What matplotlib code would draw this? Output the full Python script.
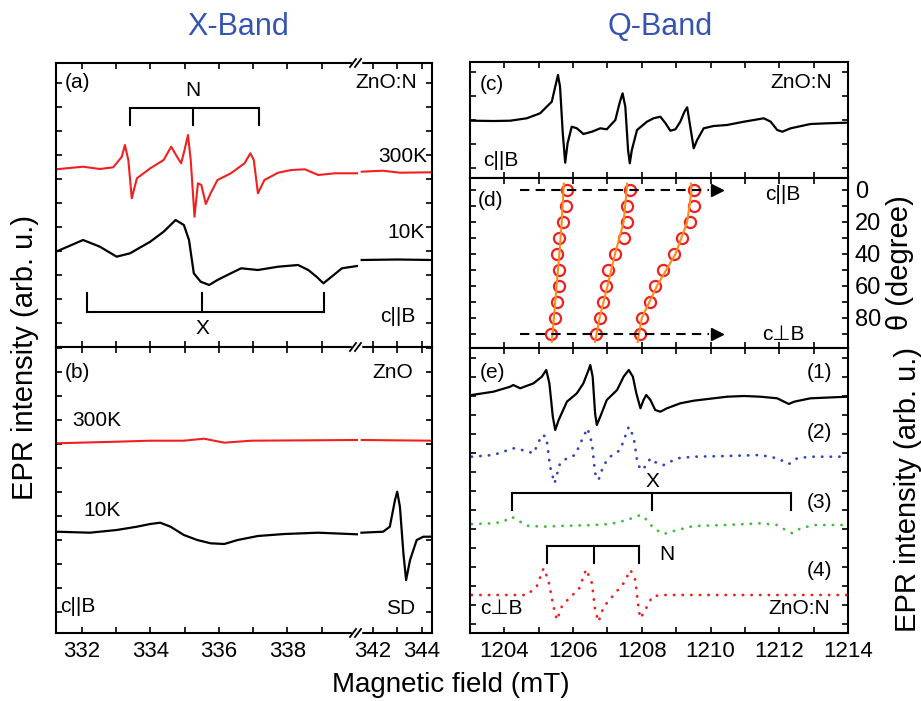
import matplotlib.pyplot as plt
from matplotlib.lines import Line2D
import numpy as np

plt.rcParams['font.family'] = ['Liberation Sans', 'DejaVu Sans']

# ---- X-band, (a) ZnO:N ----
a300_B = [331.25, 332.04, 332.53, 332.92, 333.17, 333.26, 333.36, 333.46, 333.61, 334.0,
          334.39, 334.61, 334.78, 334.9, 335.0, 335.1, 335.18, 335.29, 335.39, 335.49,
          335.62, 335.76, 335.96, 336.35, 336.75, 336.92, 337.02, 337.14, 337.33, 337.73,
          338.12, 338.51, 338.9, 339.39, 340.03]
a300_I = [177.7, 180.3, 178, 179.7, 190.3, 202, 187, 148.7, 168.7, 178.7,
          187, 200.3, 190.3, 183.7, 197, 212, 187, 130.3, 163.7, 162,
          143, 153.7, 167, 173.7, 183.7, 193.7, 187, 153.7, 167, 174.3,
          177, 177.7, 172, 173.7, 173.7]
a300_B2 = [341.55, 342.4, 343.1, 344.4]
a300_I2 = [175.3, 176.3, 174.3, 174.7]

a10_B = [331.25, 332.04, 332.53, 333.02, 333.41, 334.0, 334.39, 334.74, 334.98, 335.13,
         335.27, 335.47, 335.72, 335.96, 336.35, 336.65, 337.14, 337.73, 338.31, 338.61,
         338.85, 339.05, 339.29, 339.59, 340.03]
a10_I = [95.3, 107, 100.3, 90.3, 93.7, 105.3, 115.3, 127, 122, 107,
         73.7, 65.3, 62, 67, 73.7, 78.7, 77, 80.3, 82, 77,
         70.3, 63.7, 70.3, 78.7, 81]
a10_B2 = [341.55, 343.0, 344.4]
a10_I2 = [87, 87.5, 87]

N_lines_x = [333.41, 335.25, 337.16]
X_lines_x = [332.14, 335.52, 339.08]

# ---- X-band, (b) ZnO ----
b300_B = [331.25, 333.02, 334.0, 334.98, 335.57, 336.16, 336.94, 340.03]
b300_I = [189.7, 191.3, 192.3, 192.3, 194.3, 190.3, 192.3, 193]
b300_B2 = [341.55, 344.4]
b300_I2 = [193, 192.3]

b10_B = [331.25, 332.24, 333.02, 333.61, 334.0, 334.29, 334.59, 334.98, 335.37, 335.76,
         336.16, 336.55, 337.14, 337.92, 338.9, 340.03]
b10_I = [101.3, 100.3, 103, 106.3, 109, 110.3, 106.3, 98, 93, 89.7,
         89, 93, 97, 99, 100.3, 98.7]
b10_B2 = [341.54, 342.42, 342.69, 342.90, 342.99, 343.10, 343.24, 343.35, 343.51, 343.78,
          344.05, 344.4]
b10_I2 = [100.3, 101.3, 106.3, 133, 141.3, 126.3, 79.7, 53, 73, 93,
          96.3, 96.3]

# ---- Q-band, (c) c||B ----
c_B = [1203.05, 1203.68, 1204.17, 1204.65, 1205.04, 1205.38, 1205.48, 1205.56, 1205.62, 1205.70,
       1205.77, 1205.84, 1205.96, 1206.11, 1206.30, 1206.55, 1206.79, 1206.98, 1207.23, 1207.35,
       1207.44, 1207.52, 1207.60, 1207.65, 1207.71, 1207.86, 1208.15, 1208.34, 1208.54, 1208.69,
       1208.83, 1208.98, 1209.12, 1209.24, 1209.32, 1209.41, 1209.51, 1209.61, 1209.80, 1210.09,
       1210.48, 1210.97, 1211.26, 1211.55, 1211.75, 1211.94, 1212.09, 1212.33, 1212.91, 1213.40,
       1213.98]
c_I = [57.3, 57, 57.3, 59.7, 64.7, 76.3, 91.3, 103, 91.3, 44.7,
       15.3, 34.7, 51.3, 49.7, 44, 46.3, 49.7, 48.7, 58, 74.7,
       84.7, 71.3, 28, 14.7, 28, 48, 56.3, 59.7, 61.3, 54.7,
       47.3, 48.7, 56.3, 66.3, 70.7, 51.3, 29.7, 38, 49.7, 52,
       53, 56.3, 58, 59.7, 56.3, 48, 46.3, 49.7, 54, 54.7,
       55.3]

# ---- Q-band, (d) angular dependence ----
theta = [0, 10, 20, 30, 40, 50, 60, 70, 80, 90]
d_line1 = [1205.82, 1205.80, 1205.70, 1205.60, 1205.53, 1205.58, 1205.58, 1205.53, 1205.48, 1205.35]
d_line2 = [1207.65, 1207.57, 1207.57, 1207.47, 1207.23, 1207.03, 1206.97, 1206.87, 1206.79, 1206.66]
d_line3 = [1209.51, 1209.51, 1209.39, 1209.17, 1208.93, 1208.62, 1208.39, 1208.23, 1208.00, 1207.94]
theta_fit = [-4, 0, 20, 40, 60, 80, 95]
fit1 = [1205.73, 1205.72, 1205.67, 1205.60, 1205.52, 1205.44, 1205.38]
fit2 = [1207.57, 1207.56, 1207.47, 1207.22, 1207.00, 1206.77, 1206.64]
fit3 = [1209.43, 1209.45, 1209.32, 1208.98, 1208.44, 1208.00, 1207.88]
arrow_B = [1204.46, 1210.2]

# ---- Q-band, (e) c perp B: (1) experiment, (2) total sim, (3) X, (4) N ----
e1_B = [1203.05, 1203.68, 1204.17, 1204.26, 1204.46, 1204.85, 1205.09, 1205.22, 1205.31, 1205.41,
        1205.48, 1205.58, 1205.82, 1206.11, 1206.30, 1206.45, 1206.50, 1206.57, 1206.64, 1206.69,
        1206.79, 1206.98, 1207.28, 1207.47, 1207.62, 1207.74, 1207.84, 1207.96, 1208.05, 1208.13,
        1208.25, 1208.39, 1208.54, 1208.73, 1209.12, 1209.51, 1210.09, 1210.48, 1210.97, 1211.45,
        1211.94, 1212.14, 1212.28, 1212.43, 1212.91, 1213.98]
e1_I = [238, 241.3, 246.3, 248, 244.7, 249.7, 256.3, 263, 249.7, 216.3,
        203, 213, 231.3, 239.7, 249.7, 263, 268, 256.3, 219.7, 208,
        216.3, 233, 243, 256.3, 263, 256.3, 239.7, 224.7, 233, 238,
        233, 223, 221.3, 224.7, 229.7, 232.3, 234.7, 236.3, 237, 236.3,
        234.7, 231.3, 229, 231.3, 234.7, 236.3]

e2_B = [1203.05, 1203.68, 1204.26, 1204.51, 1204.85, 1205.09, 1205.22, 1205.33, 1205.46, 1205.62,
        1205.82, 1206.06, 1206.30, 1206.42, 1206.55, 1206.64, 1206.74, 1206.89, 1207.08, 1207.37,
        1207.62, 1207.76, 1207.86, 1207.96, 1208.10, 1208.25, 1208.44, 1208.64, 1209.03, 1209.51,
        1210.48, 1211.45, 1211.94, 1212.28, 1212.52, 1212.91, 1213.98]
e2_I = [176.3, 178, 184.7, 183, 179.7, 198, 196.3, 166.3, 149.7, 169.7,
        174.7, 178, 196.3, 204.7, 189.7, 159.7, 153, 168, 176.3, 183,
        206.3, 196.3, 173, 163, 166.3, 174.7, 169.7, 168, 174.7, 176.3,
        177, 178, 174.7, 169, 174.7, 176.3, 176.3]

e3_B = [1203.05, 1203.68, 1203.97, 1204.21, 1204.46, 1204.65, 1205.14, 1205.62, 1206.60, 1207.08,
        1207.57, 1207.96, 1208.15, 1208.34, 1208.64, 1209.03, 1209.51, 1210.48, 1211.45, 1211.94,
        1212.18, 1212.38, 1212.62, 1213.01, 1213.98]
e3_I = [109, 109.7, 111.3, 116.3, 111.3, 107.3, 106.3, 107, 108, 109,
        113, 118, 113, 104.7, 99, 103, 107, 108, 109.7, 108,
        103, 99.7, 104.7, 108, 108]

e4_B = [1203.05, 1204.65, 1204.94, 1205.14, 1205.28, 1205.43, 1205.53, 1205.67, 1205.92, 1206.16,
        1206.38, 1206.55, 1206.64, 1206.74, 1206.89, 1207.18, 1207.47, 1207.67, 1207.81, 1207.91,
        1207.96, 1208.15, 1208.30, 1208.54, 1213.98]
e4_I = [38, 38, 46.3, 64.7, 53, 26.3, 13, 26.3, 36.3, 43,
        63.7, 49.7, 23, 11.3, 26.3, 38, 49.7, 63, 53, 23,
        14.7, 26.3, 36.3, 38, 38]

X_lines_q = [1204.23, 1208.30, 1212.33]
N_lines_q = [1205.25, 1206.60, 1207.91]

RED = '#f02020'
W, H = 921, 701
fig = plt.figure(figsize=(W / 100, H / 100), dpi=100)


def box(x0, y0, x1, y1):
    return fig.add_axes([x0 / W, 1 - y1 / H, (x1 - x0) / W, (y1 - y0) / H])


def ftext(x, y, s, **kw):
    kw.setdefault('fontsize', 15)
    kw.setdefault('va', 'center')
    fig.text(x / W, 1 - y / H, s, **kw)


def frame(ax, ystep, y0, labelbottom=False):
    for sp in ax.spines.values():
        sp.set_linewidth(1.5)
    ax.tick_params(which='both', direction='in', top=True, right=True, length=4,
                   width=1.2, labelsize=16, pad=6, labelbottom=labelbottom,
                   labelleft=False)
    lo, hi = ax.get_ylim()
    ax.set_yticks(np.arange(y0, max(lo, hi), ystep))


def bracket(ax, xs, y, tip):
    ax.plot([xs[0], xs[-1]], [y, y], color='k', lw=1.5)
    for x in xs:
        ax.plot([x, x], [y, tip], color='k', lw=1.5)


# ---- X-band axes (broken x axis) ----
xl, xr = (331.25, 340.06), (341.4, 344.4)
axes_x = []
for (top, bot, ylim, y0, lab) in [(63, 347, (0, 284), 23.7, False),
                                  (347, 633, (0, 286), 21.3, True)]:
    axl = box(56, top, 358, bot)
    axr = box(358, top, 432, bot)
    for ax, lim in [(axl, xl), (axr, xr)]:
        ax.set_xlim(*lim)
        ax.set_ylim(*ylim)
        frame(ax, 24, y0, labelbottom=lab)
    axl.set_xticks([332, 334, 336, 338])
    axl.set_xticks([333, 335, 337, 339], minor=True)
    axr.set_xticks([342, 344])
    axr.set_xticks([343], minor=True)
    axl.spines['right'].set_visible(False)
    axr.spines['left'].set_visible(False)
    axl.tick_params(which='both', right=False)
    axr.tick_params(which='both', left=False)
    axes_x.append((axl, axr))

(a_l, a_r), (b_l, b_r) = axes_x

a_l.plot(a300_B, a300_I, color=RED, lw=1.5)
a_r.plot(a300_B2, a300_I2, color=RED, lw=1.5)
a_l.plot(a10_B, a10_I, color='k', lw=1.6)
a_r.plot(a10_B2, a10_I2, color='k', lw=1.6)
bracket(a_l, N_lines_x, 238.7, 222)
bracket(a_l, X_lines_x, 35.3, 53.7)
a_l.text(N_lines_x[1], 257, 'N', ha='center', va='center', fontsize=15)
a_l.text(X_lines_x[1], 19, 'X', ha='center', va='center', fontsize=15)

b_l.plot(b300_B, b300_I, color=RED, lw=1.5)
b_r.plot(b300_B2, b300_I2, color=RED, lw=1.5)
b_l.plot(b10_B, b10_I, color='k', lw=1.6)
b_r.plot(b10_B2, b10_I2, color='k', lw=1.6)

# break marks
for yb in (63, 347, 633):
    fig.add_artist(Line2D([353 / W, 360 / W], [1 - yb / H] * 2, color='white',
                          lw=2.5, transform=fig.transFigure))
    for xb in (353, 358):
        fig.add_artist(Line2D([(xb - 3) / W, (xb + 3) / W],
                              [1 - (yb + 4) / H, 1 - (yb - 4) / H], color='k',
                              lw=1.3, transform=fig.transFigure))

# ---- Q-band axes ----
ax_c = box(470, 62, 848, 178)
ax_d = box(470, 178, 848, 348)
ax_e = box(470, 348, 848, 633)
for ax, ylim, ystep, y0, lab in [(ax_c, (0, 116), 24, 10, False),
                                 (ax_d, (98.75, -7.5), 10, 0, False),
                                 (ax_e, (0, 285), 19, 9, True)]:
    ax.set_xlim(1203, 1214)
    ax.set_ylim(*ylim)
    frame(ax, ystep, y0, labelbottom=lab)
    ax.set_xticks(np.arange(1204, 1215, 2))
    ax.set_xticks(np.arange(1203, 1215, 2), minor=True)

ax_d.set_yticks([0, 20, 40, 60, 80])
ax_d.set_yticks([10, 30, 50, 70, 90], minor=True)
ax_d.tick_params(labelright=True, labelsize=17, pad=5)

ax_c.plot(c_B, c_I, color='k', lw=1.6)

for pts, fit in [(d_line1, fit1), (d_line2, fit2), (d_line3, fit3)]:
    ax_d.plot(pts, theta, 'o', ms=8, mfc='none', mec=RED, mew=1.6)
    ax_d.plot(fit, theta_fit, color='#ff8c1a', lw=1.5)
for th in (0, 90):
    ax_d.plot([arrow_B[0], arrow_B[1] - 0.25], [th, th], color='k', lw=1.5,
              dashes=(4.5, 3))
    ax_d.plot([arrow_B[1]], [th], marker='>', ms=9, color='k')

ax_e.plot(e1_B, e1_I, color='k', lw=1.6)
dot = dict(lw=2.0, linestyle=(0, (0.1, 3.0)), dash_capstyle='round')
ax_e.plot(e2_B, e2_I, color='#3344bb', **dot)
ax_e.plot(e3_B, e3_I, color='#44bb44', **dot)
ax_e.plot(e4_B, e4_I, color=RED, **dot)
bracket(ax_e, X_lines_q, 140.3, 123)
bracket(ax_e, N_lines_q, 87.3, 69.7)
ax_e.text(X_lines_q[1], 142, 'X', ha='center', va='bottom', fontsize=15)
ax_e.text(1208.73, 78, 'N', ha='center', va='center', fontsize=15)

# ---- texts ----
ftext(65, 83, '(a)')
ftext(417, 83, 'ZnO:N', ha='right')
ftext(427, 157, '300K', ha='right')
ftext(425, 232, '10K', ha='right')
ftext(415, 317, 'c||B', ha='right')
ftext(65, 372, '(b)')
ftext(413, 372, 'ZnO', ha='right')
ftext(72, 420, '300K')
ftext(83, 510, '10K')
ftext(60, 607, 'c||B')
ftext(415, 608, 'SD', ha='right')

ftext(480, 85, '(c)')
ftext(832, 83, 'ZnO:N', ha='right')
ftext(483, 160, 'c||B')
ftext(478, 200, '(d)')
ftext(765, 195, 'c||B')
ftext(762, 335, 'c\u22a5B')
ftext(480, 372, '(e)')
for yy, s in [(373, '(1)'), (433, '(2)'), (502, '(3)'), (570, '(4)')]:
    ftext(832, yy, s, ha='right')
ftext(480, 608, 'c\u22a5B')
ftext(830, 608, 'ZnO:N', ha='right')

ftext(238, 27, 'X-Band', ha='center', fontsize=22, color='#3553b0')
ftext(660, 27, 'Q-Band', ha='center', fontsize=22, color='#3553b0')
ftext(451, 685, 'Magnetic field (mT)', ha='center', fontsize=20)
ftext(25, 357, 'EPR intensity (arb. u.)', ha='center', rotation=90, fontsize=21)
ftext(900, 263, '\u03b8 (degree)', ha='center', rotation=90, fontsize=21)
ftext(908, 490, 'EPR intensity (arb. u.)', ha='center', rotation=90, fontsize=21)

fig.savefig('out.png', dpi=100)
